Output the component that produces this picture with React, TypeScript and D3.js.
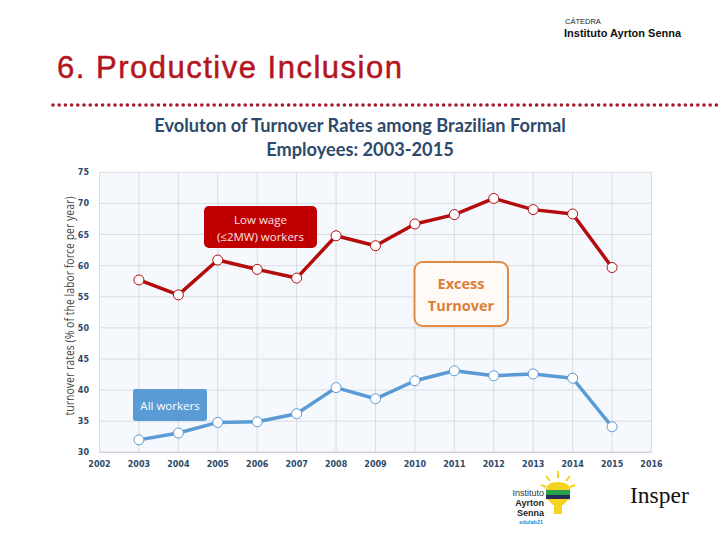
import React from "react";
import * as d3 from "d3";

const years = [2003, 2004, 2005, 2006, 2007, 2008, 2009, 2010, 2011, 2012, 2013, 2014, 2015];
const lowWage = [57.7, 55.3, 60.9, 59.4, 58.0, 64.8, 63.2, 66.7, 68.2, 70.8, 69.0, 68.3, 59.7];
const allWorkers = [32.0, 33.1, 34.8, 34.9, 36.2, 40.4, 38.6, 41.5, 43.1, 42.3, 42.6, 41.9, 34.1];
const xTicks = [2002, 2003, 2004, 2005, 2006, 2007, 2008, 2009, 2010, 2011, 2012, 2013, 2014, 2015, 2016];
const yTicks = [30, 35, 40, 45, 50, 55, 60, 65, 70, 75];

const W = 720;
const H = 540;
const plot = { left: 99.5, right: 651.5, top: 172.3, bottom: 452.3 };

export default function App() {
  const x = d3.scaleLinear().domain([2002, 2016]).range([plot.left, plot.right]);
  const y = d3.scaleLinear().domain([30, 75]).range([plot.bottom, plot.top]);
  const line = d3
    .line<number>()
    .x((_, i) => x(years[i]))
    .y((d) => y(d));

  const red = "#b40c0c";
  const blue = "#5b9bd5";
  const tickColor = "#2d4a68";

  const dots: number[] = d3.range(53, 718, 6.2);

  return (
    <svg width={W} height={H} style={{ position: "absolute", left: 0, top: 0, background: "#fff" }}>
      {/* header */}
      <text x={565} y={24} fontFamily="Liberation Sans" fontSize={7.5} fill="#222">CÁTEDRA</text>
      <text x={564} y={37} fontFamily="Liberation Sans" fontWeight="bold" fontSize={11} fill="#111">Instituto Ayrton Senna</text>
      <text
        x={57}
        y={78}
        fontFamily="Liberation Sans"
        fontSize={31}
        letterSpacing={1.5}
        fill="#b3151f"
        stroke="#b3151f"
        strokeWidth={0.5}
      >
        6. Productive Inclusion
      </text>
      {dots.map((dx, i) => (
        <circle key={i} cx={dx} cy={105} r={1.8} fill="#a8182a" />
      ))}

      {/* title */}
      <text x={360} y={132} textAnchor="middle" fontFamily="Lato" fontWeight="bold" fontSize={18.2} fill="#2e4a6b">
        Evoluton of Turnover Rates among Brazilian Formal
      </text>
      <text x={360} y={156} textAnchor="middle" fontFamily="Lato" fontWeight="bold" fontSize={18.2} fill="#2e4a6b">
        Employees: 2003-2015
      </text>

      {/* plot background */}
      <rect x={plot.left} y={plot.top} width={plot.right - plot.left} height={plot.bottom - plot.top} fill="#f5f8fc" />
      {yTicks.map((t) => (
        <line key={"gy" + t} x1={plot.left} x2={plot.right} y1={y(t)} y2={y(t)} stroke="#d9dde2" strokeWidth={1} />
      ))}
      {xTicks.map((t) => (
        <line key={"gx" + t} x1={x(t)} x2={x(t)} y1={plot.top} y2={plot.bottom} stroke="#d9dde2" strokeWidth={1} />
      ))}
      <line x1={plot.left} x2={plot.right} y1={plot.bottom} y2={plot.bottom} stroke="#c8ccd2" />

      {yTicks.map((t) => (
        <text key={"ty" + t} x={89} y={y(t) + 3} textAnchor="end" fontFamily="DejaVu Sans" fontWeight="bold" fontSize={8} fill={tickColor}>
          {t}
        </text>
      ))}
      {xTicks.map((t) => (
        <text key={"tx" + t} x={x(t)} y={467} textAnchor="middle" fontFamily="DejaVu Sans" fontWeight="bold" fontSize={8} fill={tickColor}>
          {t}
        </text>
      ))}
      <text
        transform={`translate(74,${306}) rotate(-90)`}
        textAnchor="middle"
        fontFamily="Open Sans"
        fontSize={13}
        textLength={219}
        lengthAdjust="spacingAndGlyphs"
        fill="#444"
      >
        turnover rates (% of the labor force per year)
      </text>

      {/* lines */}
      <path d={line(lowWage) || ""} fill="none" stroke={red} strokeWidth={3.5} strokeLinejoin="round" />
      <path d={line(allWorkers) || ""} fill="none" stroke={blue} strokeWidth={3.5} strokeLinejoin="round" />
      {lowWage.map((v, i) => (
        <circle key={"r" + i} cx={x(years[i])} cy={y(v)} r={5} fill="#fff" stroke={red} strokeWidth={1} />
      ))}
      {allWorkers.map((v, i) => (
        <circle key={"b" + i} cx={x(years[i])} cy={y(v)} r={5} fill="#fff" stroke={blue} strokeWidth={1} />
      ))}

      {/* annotations */}
      <rect x={204} y={206} width={113} height={42} rx={5} fill="#c00000" />
      <text x={260.5} y={224} textAnchor="middle" fontFamily="Open Sans" fontSize={11.5} fill="#fbe5e5">Low wage</text>
      <text x={260.5} y={241} textAnchor="middle" fontFamily="Open Sans" fontSize={11.5} fill="#fbe5e5">(≤2MW) workers</text>

      <rect x={133} y={389} width={74} height={32} rx={3} fill={blue} />
      <text x={170} y={409.5} textAnchor="middle" fontFamily="Open Sans" fontSize={11.5} fill="#fff">All workers</text>

      <rect x={414.5} y={262} width={93.5} height={64} rx={8} fill="#fffaf5" stroke="#e08a45" strokeWidth={2} />
      <text x={461} y={289} textAnchor="middle" fontFamily="Open Sans" fontWeight="bold" fontSize={14.5} fill="#dc7d38">Excess</text>
      <text x={461} y={311} textAnchor="middle" fontFamily="Open Sans" fontWeight="bold" fontSize={14.5} fill="#dc7d38">Turnover</text>

      {/* logos */}
      <g>
        <text x={544} y={496} textAnchor="end" fontFamily="Liberation Sans" fontSize={9} fill="#333">Instituto</text>
        <text x={544} y={506} textAnchor="end" fontFamily="Liberation Sans" fontWeight="bold" fontSize={9} fill="#222">Ayrton</text>
        <text x={544} y={516} textAnchor="end" fontFamily="Liberation Sans" fontWeight="bold" fontSize={9} fill="#222">Senna</text>
        <text x={543} y={524} textAnchor="end" fontFamily="Liberation Sans" fontWeight="bold" fontSize={5.5} fill="#2a8fd0">edulab21</text>
        <line x1={558} y1={478} x2={558} y2={471} stroke="#f6d31e" strokeWidth={2} />
        <line x1={550} y1={481} x2={546} y2={476} stroke="#f6d31e" strokeWidth={2} />
        <line x1={566} y1={481} x2={570} y2={476} stroke="#f6d31e" strokeWidth={2} />
        <line x1={546} y1={487} x2={541} y2={485} stroke="#f6d31e" strokeWidth={2} />
        <line x1={570} y1={487} x2={575} y2={485} stroke="#f6d31e" strokeWidth={2} />
        <path d="M546,490 Q546,482 558,482 Q570,482 570,490 Z" fill="#f6d31e" />
        <rect x={546} y={490} width={24} height={5} fill="#2aa04a" />
        <rect x={546} y={495} width={24} height={4} fill="#1f2f5a" />
        <path d="M547,499 L569,499 L563,505 L553,505 Z" fill="#f6d31e" />
        <rect x={554} y={505} width={8} height={9} fill="#f6d31e" />
        <text x={630} y={503} fontFamily="Liberation Serif" fontSize={23.5} fill="#111">Insper</text>
      </g>
    </svg>
  );
}
